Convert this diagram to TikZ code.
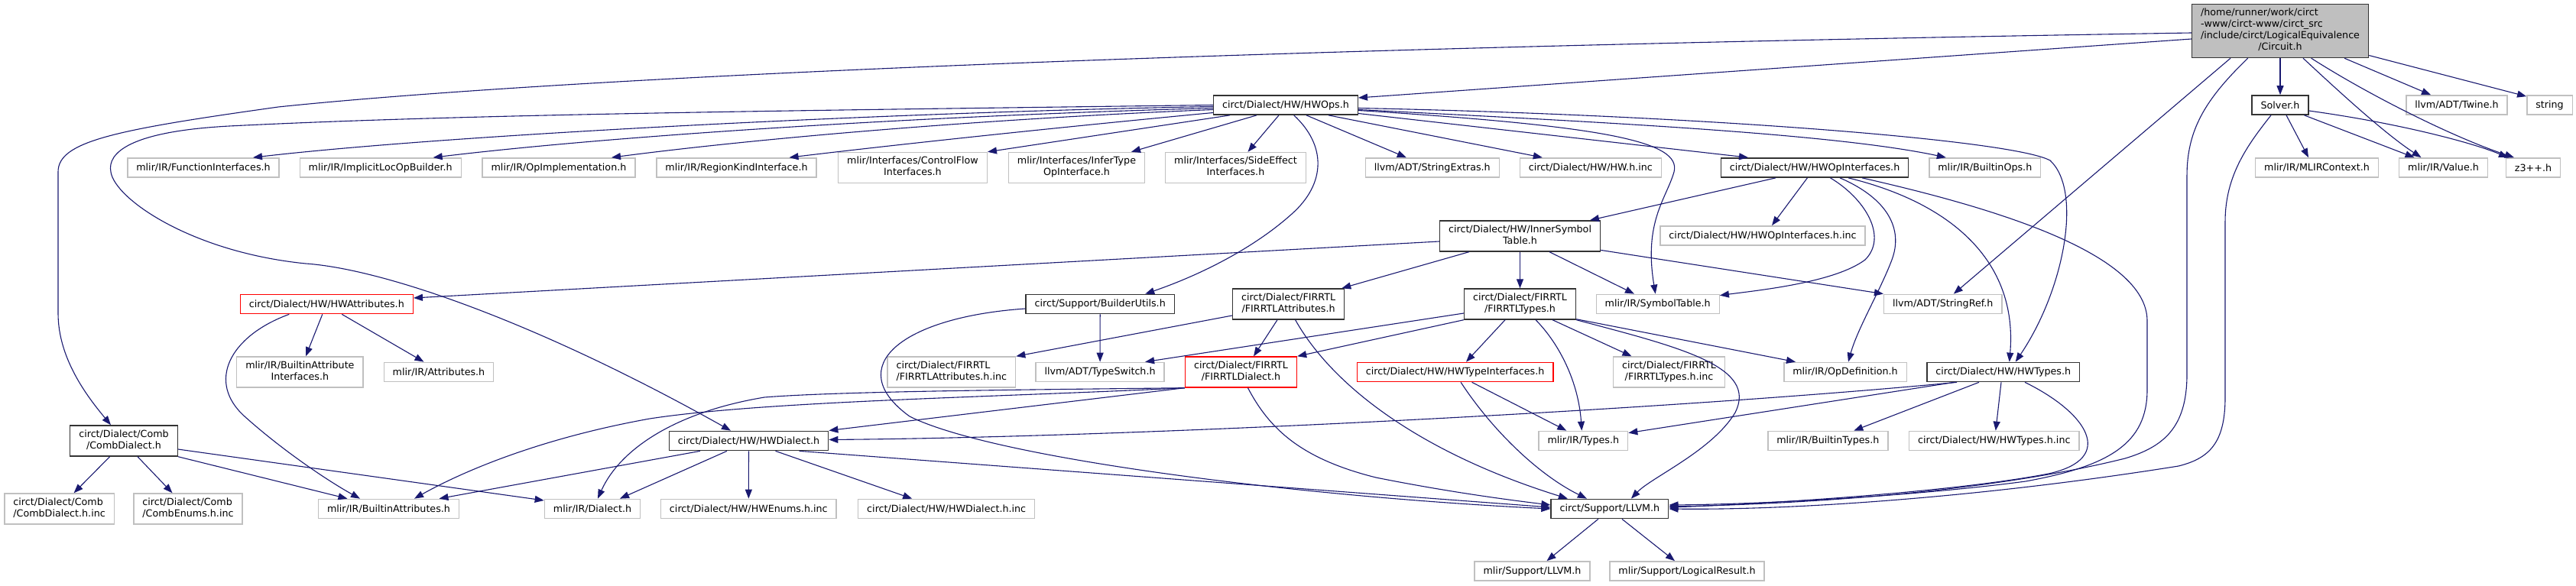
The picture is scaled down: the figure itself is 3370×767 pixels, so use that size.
\documentclass[tikz,border=0pt]{standalone}
\usepackage{fontspec}
\setmainfont{DejaVu Sans}
\usetikzlibrary{arrows.meta}

\definecolor{edgeblue}{HTML}{191970}
\definecolor{sysgray}{HTML}{C0C0C0}
\definecolor{docline}{HTML}{333333}
\definecolor{rootfill}{HTML}{BFBFBF}
\newcommand{\dlabel}[2]{\begin{tabular}{@{}l@{}}#1\\\multicolumn{1}{@{}c@{}}{#2}\end{tabular}}

\begin{document}
\begin{tikzpicture}[x=1pt, y=-1pt, >={Stealth[length=12pt, width=9pt, inset=0pt]},
  every node/.style={draw, rectangle, fill=white, line width=1.4pt, font=\fontsize{12.7}{15}\selectfont, inner xsep=11.5pt, inner ysep=5pt, minimum height=25.3pt},
  ext/.style={draw=sysgray},
  int/.style={draw=docline},
  cut/.style={draw=red},
  dep/.style={->, draw=edgeblue, line width=1.1pt}]
\useasboundingbox (0,0) rectangle (3370,767);

\node[int, fill=rootfill] (root) at (2983,40.5) {\begin{tabular}{@{}l@{}}/home/runner/work/circt\\-www/circt-www/circt\_src\\/include/circt/LogicalEquivalence\\\multicolumn{1}{@{}c@{}}{/Circuit.h}\end{tabular}};

\node[int] (hwops) at (1682,137.5) {circt/Dialect/HW/HWOps.h};
\node[int] (solver) at (2983,137.5) {Solver.h};
\node[ext] (twine) at (3214,137.5) {llvm/ADT/Twine.h};
\node[ext] (str) at (3335.5,137.5) {string};

\node[ext] (funcif) at (266,219.5) {mlir/IR/FunctionInterfaces.h};
\node[ext] (implicit) at (497.7,219.5) {mlir/IR/ImplicitLocOpBuilder.h};
\node[ext] (opimpl) at (731,219.5) {mlir/IR/OpImplementation.h};
\node[ext] (regionkind) at (963.5,219.5) {mlir/IR/RegionKindInterface.h};
\node[ext] (ctrlflow) at (1194,219.5) {\dlabel{mlir/Interfaces/ControlFlow}{Interfaces.h}};
\node[ext] (infertype) at (1408.5,219.5) {\dlabel{mlir/Interfaces/InferType}{OpInterface.h}};
\node[ext] (sideeffect) at (1616.5,219.5) {\dlabel{mlir/Interfaces/SideEffect}{Interfaces.h}};
\node[ext] (strextras) at (1873.8,219.5) {llvm/ADT/StringExtras.h};
\node[ext] (hwinc) at (2080.8,219.5) {circt/Dialect/HW/HW.h.inc};
\node[int] (hwopif) at (2374,219.5) {circt/Dialect/HW/HWOpInterfaces.h};
\node[ext] (builtinops) at (2596.8,219.5) {mlir/IR/BuiltinOps.h};
\node[ext] (mlirctx) at (3031,219.5) {mlir/IR/MLIRContext.h};
\node[ext] (value) at (3196.5,219.5) {mlir/IR/Value.h};
\node[ext] (zthree) at (3314,219.5) {z3++.h};

\node[int] (innersym) at (1988.5,309) {\dlabel{circt/Dialect/HW/InnerSymbol}{Table.h}};
\node[ext] (hwopifinc) at (2306,308.5) {circt/Dialect/HW/HWOpInterfaces.h.inc};

\node[cut] (hwattr) at (427.3,398) {circt/Dialect/HW/HWAttributes.h};
\node[int] (builder) at (1439.2,398) {circt/Support/BuilderUtils.h};
\node[int] (firattr) at (1685.6,398) {\dlabel{circt/Dialect/FIRRTL}{/FIRRTLAttributes.h}};
\node[int] (firtypes) at (1988.5,398) {\dlabel{circt/Dialect/FIRRTL}{/FIRRTLTypes.h}};
\node[ext] (symtab) at (2168.7,398) {mlir/IR/SymbolTable.h};
\node[ext] (strref) at (2541.8,398) {llvm/ADT/StringRef.h};

\node[ext] (battrif) at (392.4,487) {\dlabel{mlir/IR/BuiltinAttribute}{Interfaces.h}};
\node[ext] (attrs) at (574,487) {mlir/IR/Attributes.h};
\node[ext] (firattrinc) at (1244.8,487) {\dlabel{circt/Dialect/FIRRTL}{/FIRRTLAttributes.h.inc}};
\node[ext] (typeswitch) at (1439.1,487) {llvm/ADT/TypeSwitch.h};
\node[cut] (firdialect) at (1623.5,487) {\dlabel{circt/Dialect/FIRRTL}{/FIRRTLDialect.h}};
\node[cut] (hwtypeif) at (1903.6,487) {circt/Dialect/HW/HWTypeInterfaces.h};
\node[ext] (firtypesinc) at (2183.5,487) {\dlabel{circt/Dialect/FIRRTL}{/FIRRTLTypes.h.inc}};
\node[ext] (opdef) at (2414,487) {mlir/IR/OpDefinition.h};
\node[int] (hwtypes) at (2620.7,487) {circt/Dialect/HW/HWTypes.h};

\node[int] (comb) at (162,577) {\dlabel{circt/Dialect/Comb}{/CombDialect.h}};
\node[int] (hwdialect) at (979.5,577) {circt/Dialect/HW/HWDialect.h};
\node[ext] (types) at (2071.3,577) {mlir/IR/Types.h};
\node[ext] (builtintypes) at (2391.3,577) {mlir/IR/BuiltinTypes.h};
\node[ext] (hwtypesinc) at (2608.8,577) {circt/Dialect/HW/HWTypes.h.inc};

\node[ext] (combinc) at (77.6,666) {\dlabel{circt/Dialect/Comb}{/CombDialect.h.inc}};
\node[ext] (combenums) at (246,666) {\dlabel{circt/Dialect/Comb}{/CombEnums.h.inc}};
\node[ext] (battrs) at (508.5,666) {mlir/IR/BuiltinAttributes.h};
\node[ext] (dialect) at (775,666) {mlir/IR/Dialect.h};
\node[ext] (hwenums) at (979.3,666) {circt/Dialect/HW/HWEnums.h.inc};
\node[ext] (hwdialectinc) at (1238.2,666) {circt/Dialect/HW/HWDialect.h.inc};
\node[int] (llvm) at (2105.9,666) {circt/Support/LLVM.h};

\node[ext] (mlirllvm) at (2004.5,747.5) {mlir/Support/LLVM.h};
\node[ext] (logical) at (2207,747.5) {mlir/Support/LogicalResult.h};

\draw[dep] ([yshift=-2.5pt]root.west) .. controls (1500,65) and (700,105) .. (364,140) .. controls (150,170) and (76,185) .. (76,225) -- (76,410) .. controls (76,470) and (115,520) .. ([xshift=-17pt]comb.north);
\draw[dep] ([yshift=-10.5pt]root.west) -- ([yshift=9.5pt]hwops.east);
\draw[dep] ([xshift=-65pt]root.south) -- ([xshift=14pt]strref.north);
\draw[dep] (root) -- (solver);
\draw[dep] ([xshift=84pt]root.south) -- ([xshift=-34pt]twine.north);
\draw[dep] ([yshift=-32pt]root.east) -- ([yshift=-2pt]str.north west);
\draw[dep] ([xshift=30pt]root.south) .. controls (3060,120) and (3120,175) .. ([xshift=-29pt]value.north);
\draw[dep] ([xshift=40.6pt]root.south) .. controls (3100,125) and (3210,180) .. ([xshift=-25pt]zthree.north);
\draw[dep] ([xshift=-42.3pt]root.south) .. controls (2885,130) and (2861,170) .. (2861,230) -- (2861,490) .. controls (2861,560) and (2830,585) .. (2780,600) .. controls (2600,645) and (2350,660) .. ([yshift=3pt]llvm.east);

\draw[dep] ([xshift=8pt]solver.south) -- ([xshift=-11pt]mlirctx.north);
\draw[dep] ([xshift=31.5pt]solver.south) -- ([xshift=-38pt]value.north);
\draw[dep] ([yshift=-7.5pt]solver.east) .. controls (3130,160) and (3230,185) .. ([xshift=-33pt]zthree.north);
\draw[dep] ([xshift=-12pt]solver.south) .. controls (2940,190) and (2911,230) .. (2911,290) -- (2911,520) .. controls (2911,580) and (2890,600) .. (2850,610) .. controls (2600,650) and (2350,668) .. (llvm.east);

\draw[dep] ([yshift=-2pt]hwops.west) .. controls (1200,146) and (600,175) .. ([xshift=65pt]funcif.north);
\draw[dep] ([yshift=-4pt]hwops.west) .. controls (1200,152) and (800,178) .. ([xshift=69pt]implicit.north);
\draw[dep] ([yshift=-6pt]hwops.west) .. controls (1300,155) and (1000,180) .. ([xshift=69pt]opimpl.north);
\draw[dep] ([yshift=-10pt]hwops.west) .. controls (1350,170) and (1150,192) .. ([xshift=69pt]regionkind.north);
\draw[dep] ([xshift=-73pt]hwops.south) -- (ctrlflow.north east);
\draw[dep] ([xshift=-38pt]hwops.south) -- ([xshift=71.5pt]infertype.north);
\draw[dep] ([xshift=-9pt]hwops.south) -- ([xshift=16pt]sideeffect.north);
\draw[dep] (hwops.west) .. controls (1000,145) and (600,150) .. (300,165) .. controls (170,172) and (140,200) .. (145,225) .. controls (150,260) and (250,330) .. (400,345) .. controls (500,352) and (700,420) .. ([xshift=-23.5pt]hwdialect.north);
\draw[dep] ([xshift=27pt]hwops.south) -- ([xshift=-34pt]strextras.north);
\draw[dep] ([xshift=56pt]hwops.south) -- ([xshift=-63pt]hwinc.north);
\draw[dep] ([yshift=-11pt]hwops.east) -- ([xshift=-87pt]hwopif.north);
\draw[dep] ([yshift=-6pt]hwops.east) .. controls (2100,160) and (2400,175) .. ([xshift=-51pt]builtinops.north);
\draw[dep] ([yshift=-7pt]hwops.east) .. controls (2100,165) and (2200,185) .. (2190,225) .. controls (2180,260) and (2150,290) .. ([xshift=-3pt]symtab.north);
\draw[dep] ([yshift=-4pt]hwops.east) .. controls (2200,150) and (2630,182) .. (2682,210) .. controls (2725,250) and (2700,380) .. ([xshift=16pt]hwtypes.north);
\draw[dep] ([xshift=10.7pt]hwops.south) .. controls (1735,190) and (1735,240) .. (1690,280) .. controls (1640,325) and (1570,360) .. ([xshift=59pt]builder.north);

\draw[dep] ([xshift=-51pt]hwopif.south) -- ([xshift=91.5pt]innersym.north);
\draw[dep] ([xshift=-9.6pt]hwopif.south) -- ([xshift=12pt]hwopifinc.north);
\draw[dep] ([xshift=20.5pt]hwopif.south) .. controls (2440,260) and (2470,310) .. (2440,340) .. controls (2400,370) and (2300,380) .. ([yshift=-2pt]symtab.north east);
\draw[dep] ([xshift=33pt]hwopif.south) .. controls (2470,260) and (2490,300) .. (2475,340) .. controls (2460,380) and (2430,430) .. ([xshift=4pt]opdef.north);
\draw[dep] ([xshift=44pt]hwopif.south) .. controls (2550,265) and (2640,340) .. ([xshift=8pt]hwtypes.north);
\draw[dep] ([xshift=62pt]hwopif.south) .. controls (2600,270) and (2809,330) .. (2809,420) -- (2809,510) .. controls (2809,580) and (2760,610) .. (2650,630) .. controls (2500,650) and (2300,660) .. ([yshift=5pt]llvm.east);

\draw[dep] ([yshift=-7pt]innersym.west) -- ([yshift=8pt]hwattr.east);
\draw[dep] ([xshift=-66.7pt]innersym.south) -- ([xshift=-4pt]firattr.north east);
\draw[dep] (innersym) -- (firtypes);
\draw[dep] ([xshift=38.5pt]innersym.south) -- ([xshift=-30.7pt]symtab.north);
\draw[dep] ([yshift=2.3pt]innersym.south east) -- (strref.north west);

\draw[dep] ([yshift=-15pt]firattr.west) -- (firattrinc.north east);
\draw[dep] ([xshift=-14.6pt]firattr.south) -- ([xshift=16.5pt]firdialect.north);
\draw[dep] ([xshift=9pt]firattr.south) .. controls (1740,500) and (1850,590) .. ([xshift=-55pt]llvm.north);

\draw[dep] ([yshift=-12pt]firtypes.west) -- ([xshift=59pt]typeswitch.north);
\draw[dep] (firtypes.south west) -- (firdialect.north east);
\draw[dep] ([xshift=-19.5pt]firtypes.south) -- ([xshift=14.4pt]hwtypeif.north);
\draw[dep] ([xshift=20.5pt]firtypes.south) .. controls (2040,450) and (2065,500) .. ([xshift=-2pt]types.north);
\draw[dep] ([xshift=42.5pt]firtypes.south) -- ([xshift=-49pt]firtypesinc.north);
\draw[dep] ([yshift=1pt]firtypes.south east) -- ([xshift=-65pt]opdef.north);
\draw[dep] (firtypes.south east) .. controls (2200,455) and (2300,480) .. (2270,540) .. controls (2240,590) and (2160,625) .. ([xshift=28pt]llvm.north);

\draw[dep] (firdialect.south west) .. controls (1350,510) and (1100,512) .. (1000,520) .. controls (880,540) and (810,590) .. ([xshift=7pt]dialect.north);
\draw[dep] (firdialect.south west) .. controls (1300,520) and (1000,525) .. (850,548) .. controls (700,575) and (600,620) .. ([xshift=33.5pt]battrs.north);
\draw[dep] (firdialect.south west) -- ([yshift=13.5pt]hwdialect.east);
\draw[dep] ([xshift=9pt]firdialect.south) .. controls (1660,560) and (1700,600) .. (1800,625) .. controls (1900,645) and (1980,655) .. ([yshift=5pt]llvm.west);

\draw[dep] ([xshift=7.5pt]hwtypeif.south) .. controls (1950,560) and (2010,620) .. ([xshift=-30pt]llvm.north);
\draw[dep] ([xshift=22pt]hwtypeif.south) -- ([xshift=-22pt]types.north);

\draw[dep] ([xshift=-5.5pt]hwattr.south) -- ([xshift=7.6pt]battrif.north);
\draw[dep] ([xshift=20pt]hwattr.south) -- ([xshift=-19.5pt]attrs.north);
\draw[dep] ([xshift=-49pt]hwattr.south) .. controls (300,440) and (270,500) .. (320,545) .. controls (370,590) and (430,630) .. ([xshift=-37.5pt]battrs.north);

\draw[dep] ([xshift=-18.4pt]comb.south) -- ([xshift=19pt]combinc.north);
\draw[dep] ([xshift=18pt]comb.south) -- ([xshift=-20.5pt]combenums.north);
\draw[dep] (comb.south east) -- ([xshift=-54pt]battrs.north);
\draw[dep] ([yshift=-11pt]comb.east) -- ([yshift=11pt]dialect.west);

\draw[dep] ([xshift=-63.5pt]hwdialect.south) -- ([xshift=66pt]battrs.north);
\draw[dep] ([xshift=-28.5pt]hwdialect.south) -- ([xshift=36pt]dialect.north);
\draw[dep] (hwdialect) -- (hwenums);
\draw[dep] ([xshift=35pt]hwdialect.south) -- ([xshift=-45pt]hwdialectinc.north);
\draw[dep] ([xshift=66pt]hwdialect.south) -- ([yshift=2pt]llvm.west);

\draw[dep] (builder) -- (typeswitch);
\draw[dep] ([yshift=-6pt]builder.west) .. controls (1180,415) and (1100,480) .. (1190,545) .. controls (1300,600) and (1700,650) .. (llvm.west);

\draw[dep] ([xshift=-60.7pt]hwtypes.south) .. controls (2200,535) and (1500,572) .. ([yshift=1.5pt]hwdialect.east);
\draw[dep] ([xshift=-64pt]hwtypes.south) -- ([yshift=-3pt]types.north east);
\draw[dep] ([xshift=-31.7pt]hwtypes.south) -- ([xshift=34pt]builtintypes.north);
\draw[dep] ([xshift=-2.7pt]hwtypes.south) -- ([xshift=2pt]hwtypesinc.north);
\draw[dep] ([xshift=28.3pt]hwtypes.south) .. controls (2730,540) and (2770,600) .. (2680,620) .. controls (2550,645) and (2300,660) .. ([yshift=2pt]llvm.east);

\draw[dep] ([xshift=-15pt]llvm.south) -- ([xshift=19pt]mlirllvm.north);
\draw[dep] ([xshift=16pt]llvm.south) -- ([xshift=-16pt]logical.north);
\end{tikzpicture}
\end{document}
